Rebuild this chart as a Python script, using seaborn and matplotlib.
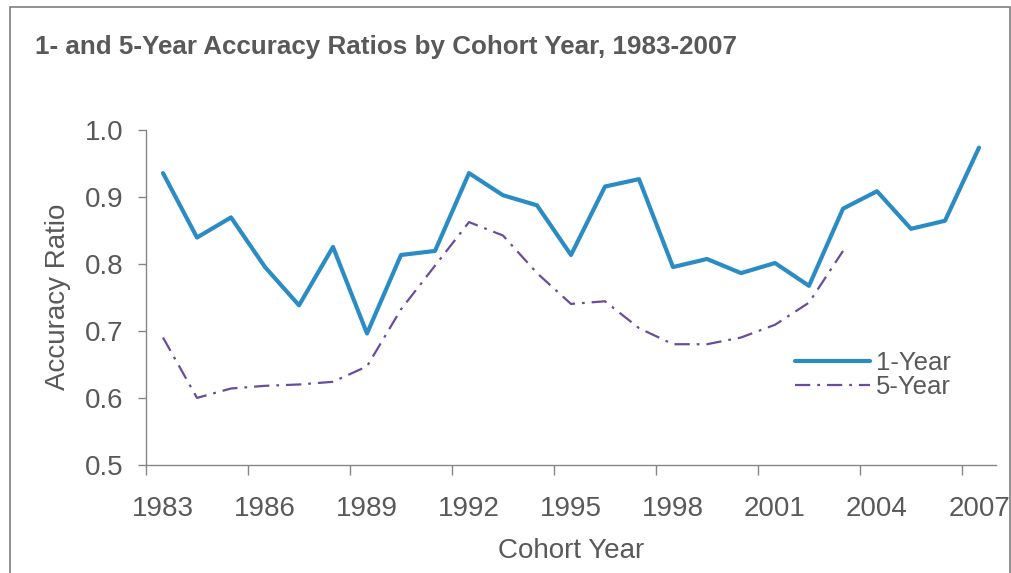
import matplotlib
matplotlib.use("Agg")
import matplotlib.pyplot as plt
from matplotlib.patches import Rectangle
import numpy as np
import pandas as pd
import seaborn as sns

# data
years = list(range(1983, 2008))
one_year = [0.935, 0.839, 0.869, 0.795, 0.738, 0.825, 0.696, 0.813, 0.819, 0.935,
            0.902, 0.887, 0.813, 0.915, 0.926, 0.795, 0.807, 0.786, 0.801, 0.767,
            0.882, 0.908, 0.852, 0.864, 0.973]
five_year = [0.690, 0.600, 0.614, 0.618, 0.620, 0.624, 0.647, 0.732, 0.797, 0.862,
             0.842, 0.786, 0.740, 0.744, 0.704, 0.680, 0.680, 0.690, 0.709, 0.742,
             0.819, np.nan, np.nan, np.nan, np.nan]
tick_years = list(range(1983, 2008, 3))

df = pd.DataFrame({"year": years, "1-Year": one_year, "5-Year": five_year})

sns.set_style("white")
plt.rcParams["font.family"] = ["Liberation Sans", "DejaVu Sans"]
plt.rcParams["lines.scale_dashes"] = False

text_col = "#595959"
axis_col = "#868686"
blue = "#2B8CC4"
purple = "#6A4C9C"

fig = plt.figure(figsize=(10.12, 5.73), dpi=100)
ax = fig.add_axes([146 / 1012, 1 - 465 / 573, 850 / 1012, 335.5 / 573])

sns.lineplot(data=df, x="year", y="1-Year", ax=ax, color=blue, linewidth=3.0,
             label="1-Year")
sns.lineplot(data=df.dropna(), x="year", y="5-Year", ax=ax, color=purple,
             linewidth=1.6, linestyle=(0, (11, 5, 2, 5)), label="5-Year")

ax.set_xlim(1982.5, 2007.5)
ax.set_ylim(0.5, 1.0)
ax.set_yticks([0.5, 0.6, 0.7, 0.8, 0.9, 1.0])
ax.set_yticklabels(["0.5", "0.6", "0.7", "0.8", "0.9", "1.0"])
ax.set_xticks(tick_years)
ax.set_xticklabels([str(y) for y in tick_years])
ax.set_xticks(np.arange(1982.5, 2008, 3), minor=True)

for s in ["top", "right"]:
    ax.spines[s].set_visible(False)
for s in ["left", "bottom"]:
    ax.spines[s].set_color(axis_col)
    ax.spines[s].set_linewidth(1.0)

ax.tick_params(axis="x", which="major", length=0, pad=22, labelsize=20, labelcolor=text_col)
ax.tick_params(axis="x", which="minor", bottom=True, length=7, width=1, color=axis_col, direction="out")
ax.tick_params(axis="y", which="major", left=True, length=6, width=1, color=axis_col,
               direction="out", pad=10, labelsize=20, labelcolor=text_col)

ax.set_xlabel("Cohort Year", fontsize=20, color=text_col, labelpad=12)
ax.set_ylabel("Accuracy Ratio", fontsize=20, color=text_col, labelpad=10)

ax.get_legend().remove()
handles, labels = ax.get_legend_handles_labels()
leg = fig.legend(handles, labels, loc="center left",
                 bbox_to_anchor=(795 / 1012, 1 - 375 / 573), frameon=False,
                 fontsize=18.5, handlelength=2.9, handletextpad=0.25,
                 labelspacing=0.02, borderpad=0, borderaxespad=0)
for t in leg.get_texts():
    t.set_color(text_col)

fig.text(35 / 1012, 1 - 47 / 573, "1- and 5-Year Accuracy Ratios by Cohort Year, 1983-2007",
         fontsize=18.7, fontweight="bold", color=text_col, va="center", ha="left")

fig.patches.append(Rectangle((10 / 1012, -0.05), 1000 / 1012, 1.05 - 7 / 573,
                             transform=fig.transFigure, fill=False,
                             edgecolor="#7f7f7f", linewidth=1.2))

fig.savefig("out.png", dpi=100)
